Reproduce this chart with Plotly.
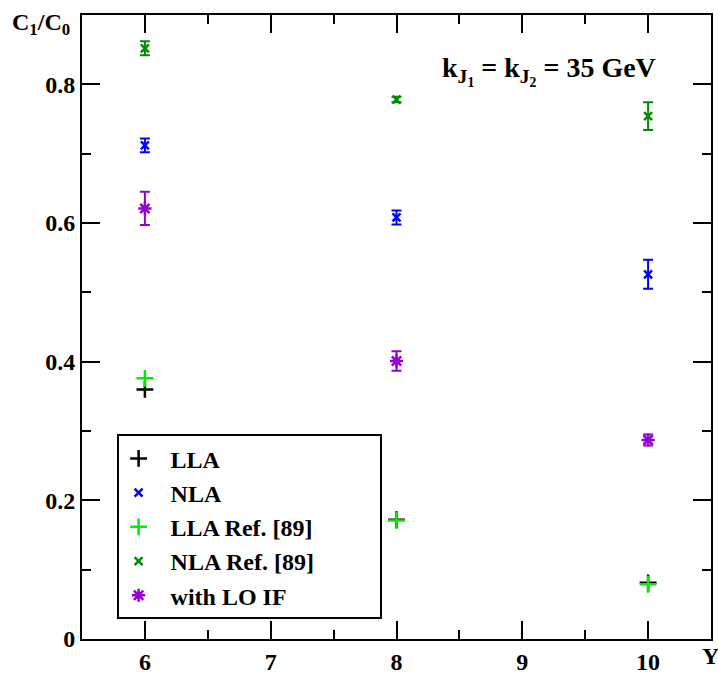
import plotly.graph_objects as go

x_vals = [6, 8, 10]
lla = [0.360, 0.172, 0.081]
nla = [0.712, 0.608, 0.526]
nla_err = [0.010, 0.010, 0.021]
lla_ref = [0.376, 0.171, 0.079]
nla_ref = [0.852, 0.778, 0.754]
nla_ref_err = [0.010, 0.004, 0.020]
lo_if = [0.621, 0.401, 0.287]
lo_if_err = [0.024, 0.014, 0.008]

FONT = "Liberation Serif"
NB = "&nbsp;"

fig = go.Figure()

def add(name, y, color, symbol, size, err=None, pad=0):
    tr = dict(x=x_vals, y=y, mode="markers",
              name="<b>" + NB * 2 + name + NB * pad + "</b>",
              marker=dict(symbol=symbol, size=size, color=color,
                          line=dict(color=color, width=2.5)))
    if err is not None:
        tr["error_y"] = dict(type="data", array=err, visible=True,
                             color=color, thickness=2, width=5)
    fig.add_trace(go.Scatter(**tr))

add("LLA", lla, "black", "cross-thin", 12)
add("NLA", nla, "#0000ff", "x-thin", 8, nla_err)
add("LLA Ref. [89]", lla_ref, "#00ee00", "cross-thin", 12)
add("NLA Ref. [89]", nla_ref, "#008c00", "x-thin", 8, nla_ref_err, pad=10)
add("with LO IF", lo_if, "#9400d3", "asterisk", 11, lo_if_err)

axis_common = dict(showline=True, linecolor="black", linewidth=2, mirror="ticks",
                   ticks="inside", ticklen=18, tickwidth=2, tickcolor="black",
                   showgrid=False, zeroline=False,
                   tickfont=dict(family=FONT, size=24, color="black"))

fig.update_xaxes(range=[5.5, 10.5], tickvals=[6, 7, 8, 9, 10],
                 ticktext=["<b>6</b>", "<b>7</b>", "<b>8</b>", "<b>9</b>", "<b>10</b>"],
                 minor=dict(ticks="inside", ticklen=9, tickwidth=2, tickcolor="black", dtick=0.5, showgrid=False),
                 **axis_common)
fig.update_yaxes(range=[0, 0.9], tickvals=[0, 0.2, 0.4, 0.6, 0.8],
                 ticktext=["<b>0</b>", "<b>0.2</b>", "<b>0.4</b>", "<b>0.6</b>", "<b>0.8</b>"],
                 minor=dict(ticks="inside", ticklen=9, tickwidth=2, tickcolor="black", dtick=0.1, showgrid=False),
                 **axis_common)

fig.add_annotation(xref="paper", yref="paper", x=-0.115, y=1.0, xanchor="left", yanchor="bottom",
                   text="<b>C<sub>1</sub>/C<sub>0</sub></b>", showarrow=False,
                   font=dict(family=FONT, size=24, color="black"), yshift=-26)
fig.add_annotation(xref="paper", yref="paper", x=1.0, y=0, xanchor="right", yanchor="top",
                   text="<b>Y</b>", showarrow=False, xshift=10, yshift=-2,
                   font=dict(family=FONT, size=24, color="black"))
fig.add_annotation(xref="paper", yref="paper", x=0.742, y=0.91, xanchor="center", yanchor="middle",
                   text="<b>k<sub>J<sub>1</sub></sub> = k<sub>J<sub>2</sub></sub> = 35 GeV</b>", showarrow=False,
                   font=dict(family=FONT, size=28, color="black"))

fig.update_layout(
    width=718, height=680,
    margin=dict(l=82, r=5, t=15, b=37),
    plot_bgcolor="white", paper_bgcolor="white",
    showlegend=True,
    legend=dict(x=0.055, y=0.328, xanchor="left", yanchor="top",
                bordercolor="black", borderwidth=2, bgcolor="white",
                font=dict(family=FONT, size=24, color="black"),
                tracegroupgap=0),
)

fig.write_html("out.html")
